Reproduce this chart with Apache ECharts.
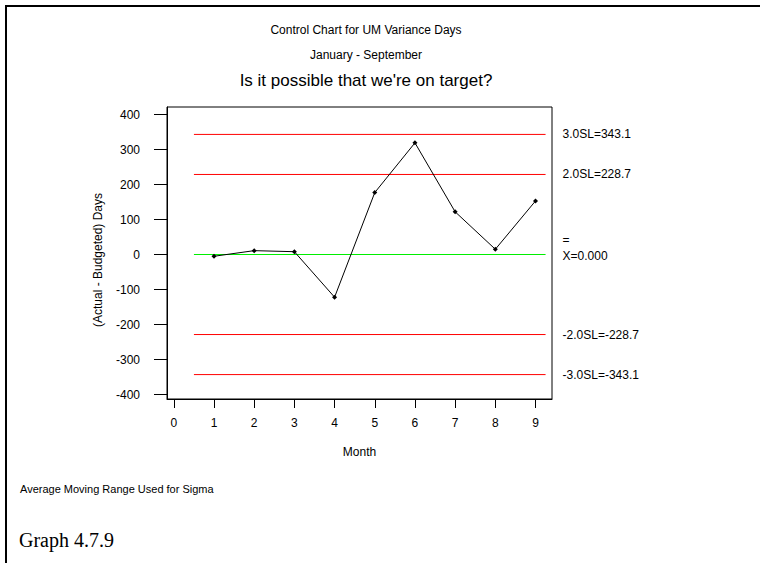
<!DOCTYPE html>
<html>
<head>
<meta charset="utf-8">
<script src="https://cdn.jsdelivr.net/npm/echarts@6/dist/echarts.min.js"></script>
<style>
html,body{margin:0;padding:0;background:#fff;}
#chart{width:760px;height:563px;}
</style>
</head>
<body>
<div id="chart"></div>
<script>
// ---- data ----
var months = [1, 2, 3, 4, 5, 6, 7, 8, 9];
var variance = [-5, 11, 8, -122, 177, 319, 122, 15, 153];
var xTicks = [0, 1, 2, 3, 4, 5, 6, 7, 8, 9];
var yTicks = [-400, -300, -200, -100, 0, 100, 200, 300, 400];
var limitValues = [343.1, 228.7, -228.7, -343.1];
var limitLabels = ['3.0SL=343.1', '2.0SL=228.7', '-2.0SL=-228.7', '-3.0SL=-343.1'];
var centerValue = 0;
var centerLabel = 'X=0.000';
var limitSpan = [0.5, 9.25];

var FONT = '"Liberation Sans", Arial, sans-serif';

var series = [];
limitValues.forEach(function (v, i) {
  series.push({
    type: 'line',
    name: 'limit' + i,
    data: [[limitSpan[0], v], [limitSpan[1], v]],
    symbol: 'none',
    silent: true,
    color: '#ff0000',
    itemStyle: { color: '#ff0000' },
    lineStyle: { color: '#ff0000', width: 1 },
    emphasis: { disabled: true },
    endLabel: {
      show: true,
      formatter: limitLabels[i],
      distance: 17,
      color: '#000',
      fontFamily: FONT,
      fontSize: 12
    },
    z: 2
  });
});
series.push({
  type: 'line',
  name: 'center',
  data: [[limitSpan[0], centerValue], [limitSpan[1], centerValue]],
  symbol: 'none',
  silent: true,
  color: '#00ee00',
  itemStyle: { color: '#00ee00' },
  lineStyle: { color: '#00ee00', width: 1 },
  emphasis: { disabled: true },
  endLabel: {
    show: true,
    formatter: '{bar|=}\n{t|' + centerLabel + '}',
    distance: 17,
    offset: [0, -7],
    color: '#000',
    fontFamily: FONT,
    fontSize: 12,
    rich: {
      bar: { fontFamily: FONT, fontSize: 12, lineHeight: 16, color: '#000' },
      t: { fontFamily: FONT, fontSize: 12, lineHeight: 16, color: '#000' }
    }
  },
  z: 2
});
series.push({
  type: 'line',
  name: 'variance',
  data: months.map(function (m, i) { return [m, variance[i]]; }),
  symbol: 'diamond',
  symbolSize: 5,
  color: '#000',
  itemStyle: { color: '#000' },
  lineStyle: { color: '#000', width: 1 },
  emphasis: { disabled: true },
  z: 5
});

var chart = echarts.init(document.getElementById('chart'), null, { renderer: 'svg' });
chart.setOption({
  animation: false,
  backgroundColor: '#fff',
  grid: {
    left: 167, top: 107, right: 208, bottom: 164,
    show: true, borderColor: '#000', borderWidth: 1, backgroundColor: 'transparent'
  },
  xAxis: {
    type: 'value',
    min: -0.17, max: 9.41,
    name: 'Month',
    nameLocation: 'middle',
    nameGap: 47,
    nameTextStyle: { color: '#000', fontFamily: FONT, fontSize: 12 },
    splitLine: { show: false },
    axisLine: { show: true, onZero: false, lineStyle: { color: '#000', width: 1 } },
    axisTick: { show: true, length: 9, customValues: xTicks, lineStyle: { color: '#000' } },
    axisLabel: { customValues: xTicks, margin: 18, color: '#000', fontFamily: FONT, fontSize: 12 }
  },
  yAxis: {
    type: 'value',
    min: -412.857, max: 421.429,
    splitLine: { show: false },
    axisLine: { show: true, onZero: false, lineStyle: { color: '#000', width: 1 } },
    axisTick: { show: true, length: 13, customValues: yTicks, lineStyle: { color: '#000' } },
    axisLabel: { customValues: yTicks, margin: 27, color: '#000', fontFamily: FONT, fontSize: 12 }
  },
  series: series,
  graphic: [
    { type: 'line', shape: { x1: 6, y1: 6, x2: 760, y2: 6 }, style: { stroke: '#000', lineWidth: 2 } },
    { type: 'line', shape: { x1: 6, y1: 5, x2: 6, y2: 563 }, style: { stroke: '#000', lineWidth: 2 } },
    { type: 'text', x: 366, y: 30, style: { text: 'Control Chart for UM Variance Days', fill: '#000', font: '12px ' + FONT, textAlign: 'center', textVerticalAlign: 'middle' } },
    { type: 'text', x: 366, y: 55, style: { text: 'January - September', fill: '#000', font: '12px ' + FONT, textAlign: 'center', textVerticalAlign: 'middle' } },
    { type: 'text', x: 366, y: 80, style: { text: "Is it possible that we're on target?", fill: '#000', font: '17px ' + FONT, textAlign: 'center', textVerticalAlign: 'middle' } },
    { type: 'text', x: 98, y: 260, rotation: Math.PI / 2, style: { text: '(Actual - Budgeted) Days', fill: '#000', font: '12px ' + FONT, textAlign: 'center', textVerticalAlign: 'middle' } },
    { type: 'text', x: 20, y: 489, style: { text: 'Average Moving Range Used for Sigma', fill: '#000', font: '11px ' + FONT, textAlign: 'left', textVerticalAlign: 'middle' } },
    { type: 'text', x: 19, y: 540, style: { text: 'Graph 4.7.9', fill: '#000', font: '20px "Liberation Serif", "Times New Roman", serif', textAlign: 'left', textVerticalAlign: 'middle' } }
  ]
});
</script>
</body>
</html>
